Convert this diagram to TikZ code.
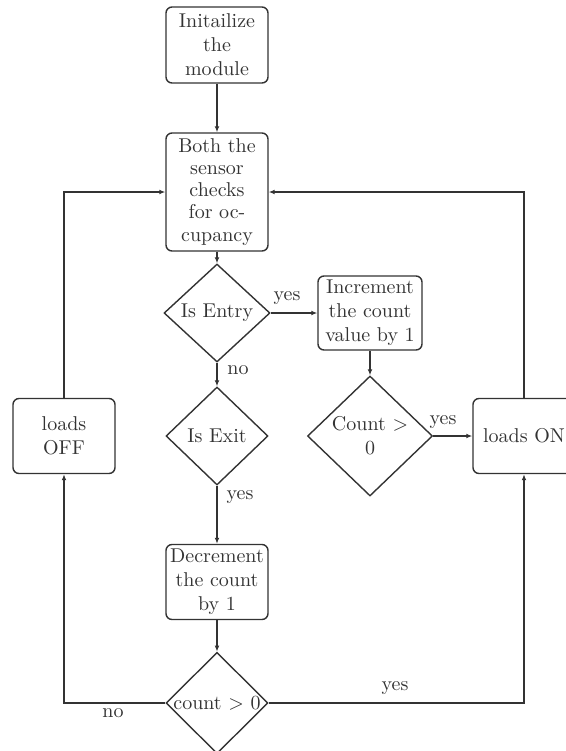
\documentclass[tikz,border=0pt]{standalone}
\usetikzlibrary{shapes.geometric,arrows.meta}
\definecolor{ink}{HTML}{333333}
\tikzset{
  base/.style={draw=ink, text=ink, line width=0.7pt, align=center, inner sep=1pt, font=\normalsize},
  procbox/.style={base, rectangle, rounded corners=3pt},
  decide/.style={base, diamond, inner sep=0pt},
  arr/.style={draw=ink, line width=0.7pt, -{Latex[length=3pt,width=2.4pt]}},
  lbl/.style={text=ink, font=\normalsize, inner sep=0pt}
}
\begin{document}
\begin{tikzpicture}[x=0.5pt,y=-0.5pt]
\useasboundingbox (0,0) rectangle (566,751);
\clip (0,0) rectangle (566,751);
\node[procbox, minimum width=51pt, minimum height=38pt] (init) at (217,45) {Initailize\\the\\module};
\node[procbox, minimum width=51pt, minimum height=59pt, font=\normalsize\linespread{0.92}\selectfont] (both) at (217,192) {Both the\\sensor\\checks\\for oc-\\cupancy};
\node[decide, minimum width=53pt, minimum height=49pt] (entry) at (217,313) {Is Entry};
\node[procbox, minimum width=52pt, minimum height=37pt] (inc) at (370,313) {Increment\\the count\\value by 1};
\node[decide, minimum width=51pt, minimum height=49pt] (exit) at (217,436) {Is Exit};
\node[decide, minimum width=62.5pt, minimum height=60pt] (cnt1) at (370,436) {Count $>$\\0};
\node[procbox, minimum width=51pt, minimum height=37.5pt] (on) at (524,436) {loads ON};
\node[procbox, minimum width=51pt, minimum height=37.5pt] (off) at (64,436) {loads\\OFF};
\node[procbox, minimum width=51pt, minimum height=37.5pt] (dec) at (217,582) {Decrement\\the count\\by 1};
\node[decide, minimum width=51pt, minimum height=48pt] (cnt2) at (217,703) {count $>$ 0};

\draw[arr] (init) -- (both);
\draw[arr] (both) -- (entry);
\draw[arr] (entry.east) -- (inc.west);
\draw[arr] (entry.south) -- (exit.north);
\draw[arr] (exit.south) -- (dec.north);
\draw[arr] (dec.south) -- (cnt2.north);
\draw[arr] (inc.south) -- (cnt1.north);
\draw[arr] (cnt1.east) -- (on.west);
\draw[arr] (on.north) |- (both.east);
\draw[arr] (off.north) |- (both.west);
\draw[arr] (cnt2.west) -| (off.south);
\draw[arr] (cnt2.east) -| (on.south);

\node[lbl] (l1) at (287,298) {yes};
\node[lbl] (l2) at (238,370) {no};
\node[lbl] (l3) at (240,497) {yes};
\node[lbl] (l4) at (443,422) {yes};
\node[lbl] (l5) at (113,713) {no};
\node[lbl] (l6) at (395,688) {yes};
\end{tikzpicture}
\end{document}
